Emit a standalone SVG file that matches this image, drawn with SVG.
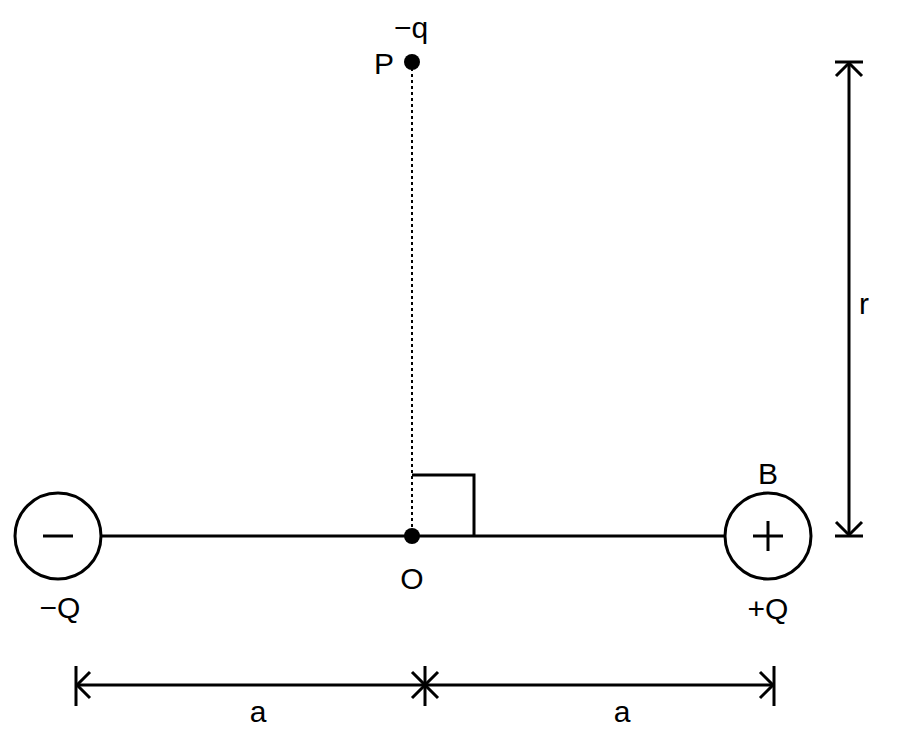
<svg xmlns="http://www.w3.org/2000/svg" width="900" height="736" viewBox="0 0 900 736">
<style>
.l{stroke:#000;stroke-width:3;fill:none}
.t{font-family:"Liberation Sans",Arial,sans-serif;font-size:30px;fill:#000}
</style>
<rect width="900" height="736" fill="#fff"/>
<g id="connectors">
<line class="l" x1="101" y1="536" x2="725" y2="536"/>
<line x1="412" y1="62" x2="412" y2="536" stroke="#000" stroke-width="2" stroke-dasharray="3,3"/>
<polyline class="l" points="412,475 474,475 474,536"/>
<line class="l" x1="849" y1="62" x2="849" y2="536"/>
<line class="l" x1="835" y1="62" x2="863" y2="62"/>
<line class="l" x1="835" y1="536" x2="863" y2="536"/>
<polyline class="l" points="836,76 849,63 862,76"/>
<polyline class="l" points="836,522 849,535 862,522"/>
<line class="l" x1="76" y1="685" x2="774" y2="685"/>
<line class="l" x1="76" y1="666" x2="76" y2="706"/>
<line class="l" x1="774" y1="666" x2="774" y2="706"/>
<polyline class="l" points="90,672 77,685 90,698"/>
<polyline class="l" points="760,672 773,685 760,698"/>
<line class="l" x1="425" y1="666" x2="425" y2="706"/>
<polyline class="l" points="412,672 425,685 412,698"/>
<polyline class="l" points="438,672 425,685 438,698"/>
</g>
<g id="A"><circle class="l" cx="58" cy="536" r="43"/><line class="l" x1="43" y1="536" x2="73" y2="536"/></g>
<g id="B"><circle class="l" cx="768" cy="536" r="43"/><line class="l" x1="753" y1="536" x2="783" y2="536"/><line class="l" x1="768" y1="521" x2="768" y2="551"/></g>
<g id="O"><circle cx="412" cy="536" r="8"/></g>
<g id="P"><circle cx="412" cy="62" r="8"/></g>
<g id="labels">
<text class="t" x="394" y="38">−q</text>
<text class="t" x="374" y="74">P</text>
<text class="t" x="412" y="589" text-anchor="middle">O</text>
<text class="t" x="60" y="618" text-anchor="middle">−Q</text>
<text class="t" x="768" y="619" text-anchor="middle">+Q</text>
<text class="t" x="768" y="484" text-anchor="middle">B</text>
<text class="t" x="864" y="314" text-anchor="middle">r</text>
<text class="t" x="258" y="722" text-anchor="middle">a</text>
<text class="t" x="622" y="722" text-anchor="middle">a</text>
</g>
</svg>
